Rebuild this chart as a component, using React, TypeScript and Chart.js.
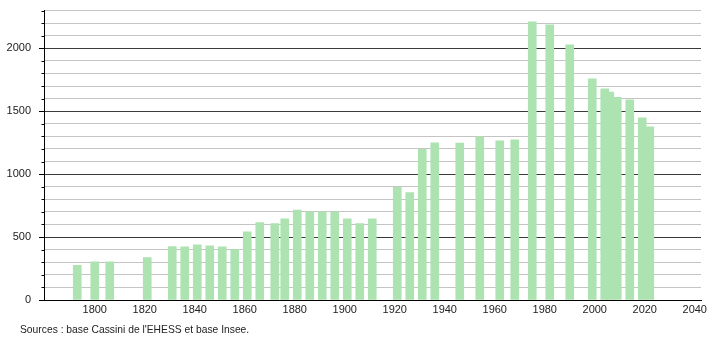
import React, { useEffect, useRef } from "react";
import { Chart, registerables } from "chart.js";

Chart.register(...registerables);

const years = [
  1793, 1800, 1806, 1821, 1831, 1836, 1841, 1846, 1851, 1856, 1861, 1866,
  1872, 1876, 1881, 1886, 1891, 1896, 1901, 1906, 1911, 1921, 1926, 1931,
  1936, 1946, 1954, 1962, 1968, 1975, 1982, 1990, 1999, 2004, 2006, 2009,
  2014, 2019, 2022,
];
const population = [
  275, 303, 303, 338, 425, 422, 438, 430, 422, 400, 542, 615,
  607, 644, 715, 700, 700, 700, 644, 607, 644, 896, 853, 1197,
  1248, 1247, 1296, 1264, 1273, 2210, 2186, 2028, 1757, 1677, 1651, 1610,
  1591, 1447, 1375,
];
const xTickValues = [1800, 1820, 1840, 1860, 1880, 1900, 1920, 1940, 1960, 1980, 2000, 2020, 2040];
const sourceText = "Sources : base Cassini de l'EHESS et base Insee.";

const FONT = "'Liberation Sans', Arial, sans-serif";

export default function App() {
  const ref = useRef<HTMLCanvasElement | null>(null);

  useEffect(() => {
    const canvas = ref.current;
    if (!canvas) return;
    const minorTicks = {
      id: "minorTicks",
      afterDatasetsDraw(chart: any) {
        const y = chart.scales.y;
        const ctx = chart.ctx;
        const left = chart.chartArea.left;
        ctx.save();
        ctx.strokeStyle = "#000";
        ctx.lineWidth = 1;
        y.ticks.forEach((t: any) => {
          if (t.value % 500 !== 0) {
            const py = Math.round(y.getPixelForValue(t.value)) + 0.5;
            ctx.beginPath();
            ctx.moveTo(left - 2.5, py);
            ctx.lineTo(left, py);
            ctx.stroke();
          }
        });
        ctx.restore();
      },
    };
    const chart = new Chart(canvas, {
      type: "bar",
      data: {
        datasets: [
          {
            data: years.map((yr, i) => ({ x: yr, y: population[i] })),
            backgroundColor: "#ade3b1",
            borderWidth: 0,
            barThickness: 8,
          },
        ],
      },
      options: {
        animation: false,
        responsive: false,
        maintainAspectRatio: false,
        layout: { padding: { left: 0, right: 9, top: 10.5, bottom: 0 } },
        plugins: { legend: { display: false }, tooltip: { enabled: false } },
        scales: {
          x: {
            type: "linear",
            min: 1779.7,
            max: 2042.5,
            offset: false,
            afterBuildTicks: (scale: any) => {
              scale.ticks = xTickValues.map((v) => ({ value: v }));
            },
            afterFit: (scale: any) => {
              scale.height = 40;
              scale.paddingLeft = 0;
              scale.paddingRight = 0;
            },
            grid: { display: false, drawTicks: false },
            border: { display: true, color: "#000", width: 1 },
            ticks: {
              padding: 3,
              maxRotation: 0,
              autoSkip: false,
              color: "#222",
              font: { family: FONT, size: 11 },
              callback: (v: any) => String(v),
            },
          },
          y: {
            min: 0,
            max: 2300,
            afterFit: (scale: any) => {
              scale.width = 44;
              scale.paddingTop = 0;
              scale.paddingBottom = 0;
            },
            grid: {
              color: (c: any) => (c.tick && c.tick.value % 500 === 0 ? "#3a3a3a" : "#c4c4c4"),
              tickColor: (c: any) => (c.tick && c.tick.value % 500 === 0 ? "#000" : "transparent"),
              tickLength: 5,
              lineWidth: 1,
            },
            border: { display: true, color: "#000", width: 1 },
            ticks: {
              stepSize: 100,
              padding: 8,
              autoSkip: false,
              color: "#222",
              font: { family: FONT, size: 11 },
              callback: (v: any) => (Number(v) % 500 === 0 ? String(v) : ""),
            },
          },
        },
      },
      plugins: [minorTicks],
    });
    return () => chart.destroy();
  }, []);

  return (
    <div style={{ position: "fixed", left: 0, top: 0, width: 710, height: 340, background: "#fff" }}>
      <canvas ref={ref} width={710} height={340} style={{ position: "absolute", left: 0, top: 0 }} />
      <div
        style={{
          position: "absolute",
          left: 20,
          top: 323,
          fontFamily: FONT,
          fontSize: 10.3,
          color: "#222",
          whiteSpace: "nowrap",
          lineHeight: "14px",
        }}
      >
        {sourceText}
      </div>
    </div>
  );
}
